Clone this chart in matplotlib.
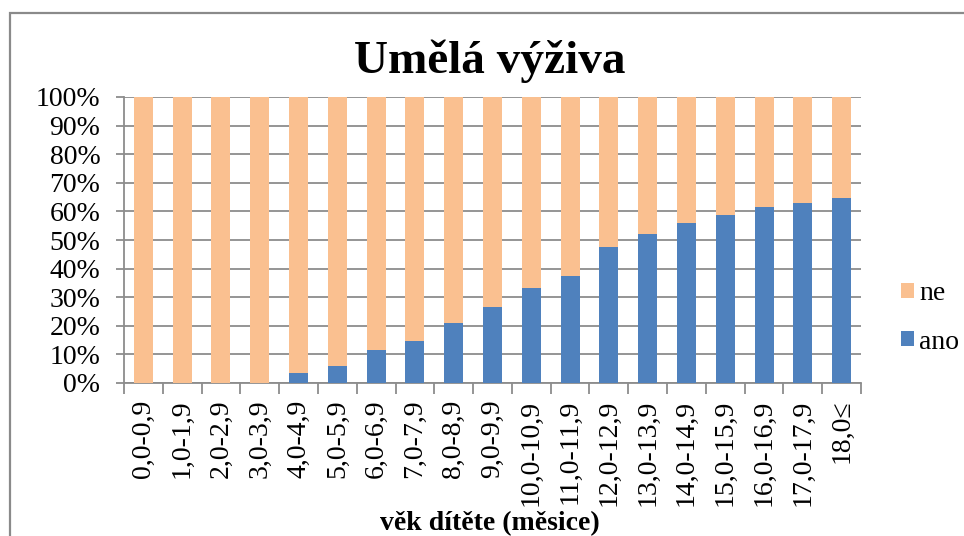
import matplotlib
matplotlib.use("Agg")
import matplotlib.pyplot as plt
import numpy as np
from matplotlib.patches import Rectangle
from matplotlib.ticker import FixedLocator, PercentFormatter

categories = ["0,0-0,9", "1,0-1,9", "2,0-2,9", "3,0-3,9", "4,0-4,9", "5,0-5,9",
              "6,0-6,9", "7,0-7,9", "8,0-8,9", "9,0-9,9", "10,0-10,9", "11,0-11,9",
              "12,0-12,9", "13,0-13,9", "14,0-14,9", "15,0-15,9", "16,0-16,9",
              "17,0-17,9", "18,0≤"]
ano = [0, 0, 0, 0, 3.6, 5.9, 11.7, 14.8, 21.1, 26.5, 33.2, 37.3,
       47.6, 52.1, 56.1, 58.9, 61.5, 62.8, 64.7]
ne = [100 - v for v in ano]

title = "Umělá výživa"
xlabel = "věk dítěte (měsice)"

plt.rcParams['font.family'] = ['Liberation Serif', 'DejaVu Serif']

W, H = 964, 536
fig = plt.figure(figsize=(W / 100, H / 100), dpi=100)
fig.patch.set_facecolor('white')

# chart frame
fig.patches.append(Rectangle((10 / W, -0.1), 1.2, (H - 13) / H + 0.1,
                             transform=fig.transFigure, fill=False,
                             edgecolor='#8a8a8a', linewidth=1.6))

ax = fig.add_axes([124 / W, (H - 383) / H, (861 - 124) / W, (383 - 97) / H])
x = np.arange(len(categories))
blue = '#4F81BD'
orange = '#FAC090'
ax.bar(x, ano, width=0.49, color=blue, label='ano', zorder=3)
ax.bar(x, ne, width=0.49, bottom=ano, color=orange, label='ne', zorder=3)

ax.set_xlim(-0.5, len(categories) - 0.5)
ax.set_ylim(0, 100)
ax.yaxis.set_major_locator(FixedLocator(np.arange(0, 101, 10)))
ax.yaxis.set_major_formatter(PercentFormatter(decimals=0))
ax.grid(axis='y', color='#8c8c8c', linewidth=1.3, zorder=0)
ax.set_axisbelow(True)

ax.set_xticks(x)
ax.set_xticklabels(categories, rotation=90, fontsize=20)
ax.tick_params(axis='x', which='major', length=0, pad=12)
ax.set_xticks(np.arange(-0.5, len(categories), 1.0), minor=True)
ax.tick_params(axis='x', which='minor', length=8, width=1.3, color='#8c8c8c', direction='out')
ax.tick_params(axis='y', length=6, width=1.3, color='#8c8c8c', labelsize=20, pad=11)

for s in ['top', 'right']:
    ax.spines[s].set_visible(False)
for s in ['left', 'bottom']:
    ax.spines[s].set_color('#8c8c8c')
    ax.spines[s].set_linewidth(1.3)

fig.text(490 / W, 1 - 61 / H, title, ha='center', va='center',
         fontsize=34, fontweight='bold')
fig.text(490 / W, 1 - 524 / H, xlabel, ha='center', va='center',
         fontsize=20, fontweight='bold')

handles, labels = ax.get_legend_handles_labels()
leg = fig.legend(handles[::-1], labels[::-1], loc='center left',
                 bbox_to_anchor=(901 / W, 1 - 318 / H), frameon=False,
                 fontsize=20, handlelength=0.45, handleheight=0.45,
                 handletextpad=0.2, labelspacing=0.85, borderpad=0,
                 borderaxespad=0)

fig.savefig('out.png', dpi=100)
